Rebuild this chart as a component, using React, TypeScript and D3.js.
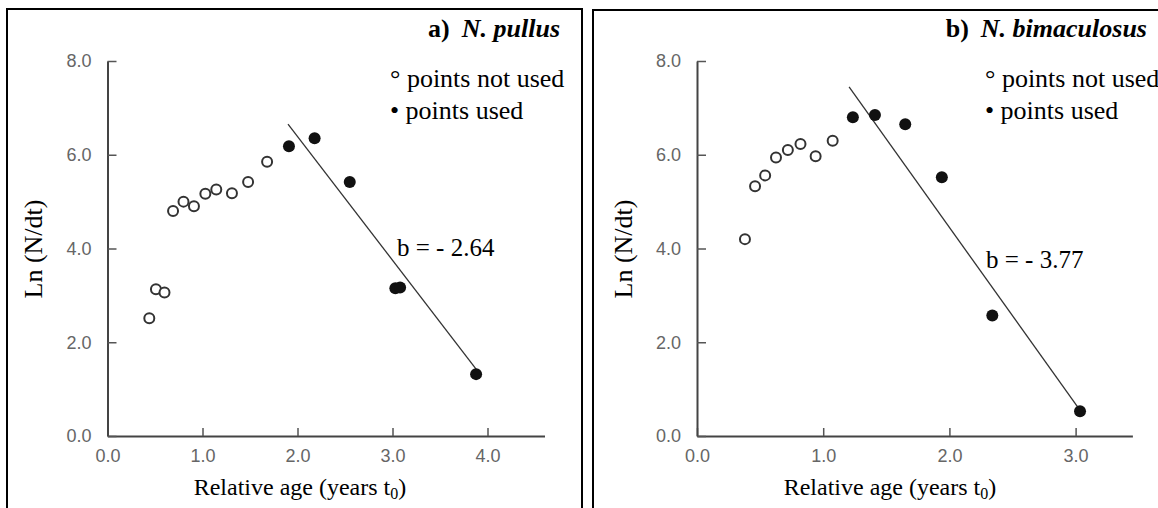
import React, { useEffect, useRef } from "react";
import * as d3 from "d3";

// ---------- data ----------
const yTicks = [0, 2, 4, 6, 8];
const xTicksA = [0, 1, 2, 3, 4];
const xTicksB = [0, 1, 2, 3];

// Panel a) N. pullus
const aOpenX = [0.44, 0.51, 0.6, 0.69, 0.8, 0.91, 1.03, 1.145, 1.31, 1.48, 1.68];
const aOpenY = [2.51, 3.13, 3.06, 4.8, 5.0, 4.9, 5.17, 5.26, 5.18, 5.42, 5.85];
const aUsedX = [1.91, 2.18, 2.55, 3.03, 3.08, 3.88];
const aUsedY = [6.18, 6.35, 5.42, 3.15, 3.17, 1.32];
const aSlope = -2.64;
const aIntercept = 11.67;
const aLineRange = [1.9, 3.88];

// Panel b) N. bimaculosus
const bOpenX = [0.38, 0.46, 0.54, 0.626, 0.72, 0.82, 0.94, 1.075];
const bOpenY = [4.2, 5.33, 5.56, 5.94, 6.1, 6.23, 5.97, 6.3];
const bUsedX = [1.235, 1.41, 1.65, 1.94, 2.34, 3.035];
const bUsedY = [6.8, 6.85, 6.65, 5.52, 2.57, 0.53];
const bSlope = -3.77;
const bIntercept = 11.99;
const bLineRange = [1.205, 3.013];

const SERIF = "'Liberation Serif', 'Times New Roman', serif";
const SANS = "'Liberation Sans', Arial, sans-serif";

type PanelProps = {
  letter: string;
  species: string;
  xMax: number;
  xRange: [number, number];
  xTicks: number[];
  openX: number[];
  openY: number[];
  usedX: number[];
  usedY: number[];
  slope: number;
  intercept: number;
  lineRange: number[];
  slopeLabel: string;
  box: { x: number; y: number; w: number; h: number };
  titleRight: number;
  legendX: number;
  slopeLabelPos: [number, number];
  yLabelX: number;
  xLabelX: number;
};

function Panel(p: PanelProps) {
  const xAxisRef = useRef<SVGGElement>(null);
  const yAxisRef = useRef<SVGGElement>(null);
  const x = d3.scaleLinear().domain([0, p.xMax]).range(p.xRange);
  const y = d3.scaleLinear().domain([0, 8]).range([436, 61]);

  useEffect(() => {
    const fmt = d3.format(".1f");
    const xa = d3
      .axisBottom(x)
      .tickValues(p.xTicks)
      .tickFormat((d: any) => fmt(d))
      .tickSizeInner(-8)
      .tickSizeOuter(0)
      .tickPadding(13);
    const ya = d3
      .axisLeft(y)
      .tickValues(yTicks)
      .tickFormat((d: any) => fmt(d))
      .tickSizeInner(-9)
      .tickSizeOuter(0)
      .tickPadding(16);
    const gx = d3.select(xAxisRef.current!);
    gx.call(xa as any);
    const gy = d3.select(yAxisRef.current!);
    gy.call(ya as any);
    [gx, gy].forEach((g) => {
      g.select(".domain").attr("stroke", "#444").attr("stroke-width", 2);
      g.selectAll(".tick line").attr("stroke", "#555").attr("stroke-width", 1.5);
      g.selectAll(".tick text")
        .attr("fill", "#666")
        .attr("font-family", SANS)
        .attr("font-size", 18);
    });
  }, []);

  const lineGen = d3
    .line<number>()
    .x((d) => x(d))
    .y((d) => y(p.intercept + p.slope * d));

  return (
    <g>
      <rect
        x={p.box.x}
        y={p.box.y}
        width={p.box.w}
        height={p.box.h}
        fill="none"
        stroke="#000"
        strokeWidth={2}
      />
      <g ref={xAxisRef} transform={`translate(0,${y(0)})`} />
      <g ref={yAxisRef} transform={`translate(${x(0)},0)`} />
      <path d={lineGen(p.lineRange) || ""} stroke="#333" strokeWidth={1.3} fill="none" />
      {p.openX.map((v, i) => (
        <circle
          key={"o" + i}
          cx={x(v)}
          cy={y(p.openY[i])}
          r={5}
          fill="#fff"
          stroke="#333"
          strokeWidth={2}
        />
      ))}
      {p.usedX.map((v, i) => (
        <circle key={"u" + i} cx={x(v)} cy={y(p.usedY[i])} r={6} fill="#111" />
      ))}
      <text
        x={p.titleRight}
        y={37}
        textAnchor="end"
        fontFamily={SERIF}
        fontSize={26}
        fontWeight="bold"
        fill="#000"
      >
        {p.letter}
        <tspan dx={12} fontStyle="italic">
          {p.species}
        </tspan>
      </text>
      <text x={p.legendX} y={87} fontFamily={SERIF} fontSize={26} fill="#000">
        ° points not used
      </text>
      <text x={p.legendX} y={119} fontFamily={SERIF} fontSize={26} fill="#000">
        • points used
      </text>
      <text
        x={p.slopeLabelPos[0]}
        y={p.slopeLabelPos[1]}
        fontFamily={SERIF}
        fontSize={25}
        fill="#000"
      >
        {p.slopeLabel}
      </text>
      <text
        x={p.xLabelX}
        y={495}
        textAnchor="middle"
        fontFamily={SERIF}
        fontSize={24}
        fill="#000"
      >
        Relative age (years t
        <tspan fontSize={16} dy={4}>
          0
        </tspan>
        <tspan dy={-4}>)</tspan>
      </text>
      <text
        transform={`translate(${p.yLabelX},249) rotate(-90)`}
        textAnchor="middle"
        fontFamily={SERIF}
        fontSize={26}
        fill="#000"
      >
        Ln (N/dt)
      </text>
    </g>
  );
}

export default function App() {
  return (
    <svg
      width={1158}
      height={508}
      style={{ position: "absolute", left: 0, top: 0, background: "#fff" }}
    >
      <rect x={0} y={0} width={1158} height={508} fill="#fff" />
      <Panel
        letter="a)"
        species="N. pullus"
        xMax={4.6}
        xRange={[107.5, 544.5]}
        xTicks={xTicksA}
        openX={aOpenX}
        openY={aOpenY}
        usedX={aUsedX}
        usedY={aUsedY}
        slope={aSlope}
        intercept={aIntercept}
        lineRange={aLineRange}
        slopeLabel="b = - 2.64"
        box={{ x: 7, y: 9, w: 575, h: 520 }}
        titleRight={560}
        legendX={390}
        slopeLabelPos={[397, 256]}
        yLabelX={42}
        xLabelX={300}
      />
      <Panel
        letter="b)"
        species="N. bimaculosus"
        xMax={3.45}
        xRange={[697, 1132.4]}
        xTicks={xTicksB}
        openX={bOpenX}
        openY={bOpenY}
        usedX={bUsedX}
        usedY={bUsedY}
        slope={bSlope}
        intercept={bIntercept}
        lineRange={bLineRange}
        slopeLabel="b = - 3.77"
        box={{ x: 593, y: 10, w: 600, h: 520 }}
        titleRight={1147}
        legendX={985}
        slopeLabelPos={[986, 268]}
        yLabelX={632}
        xLabelX={890}
      />
    </svg>
  );
}
